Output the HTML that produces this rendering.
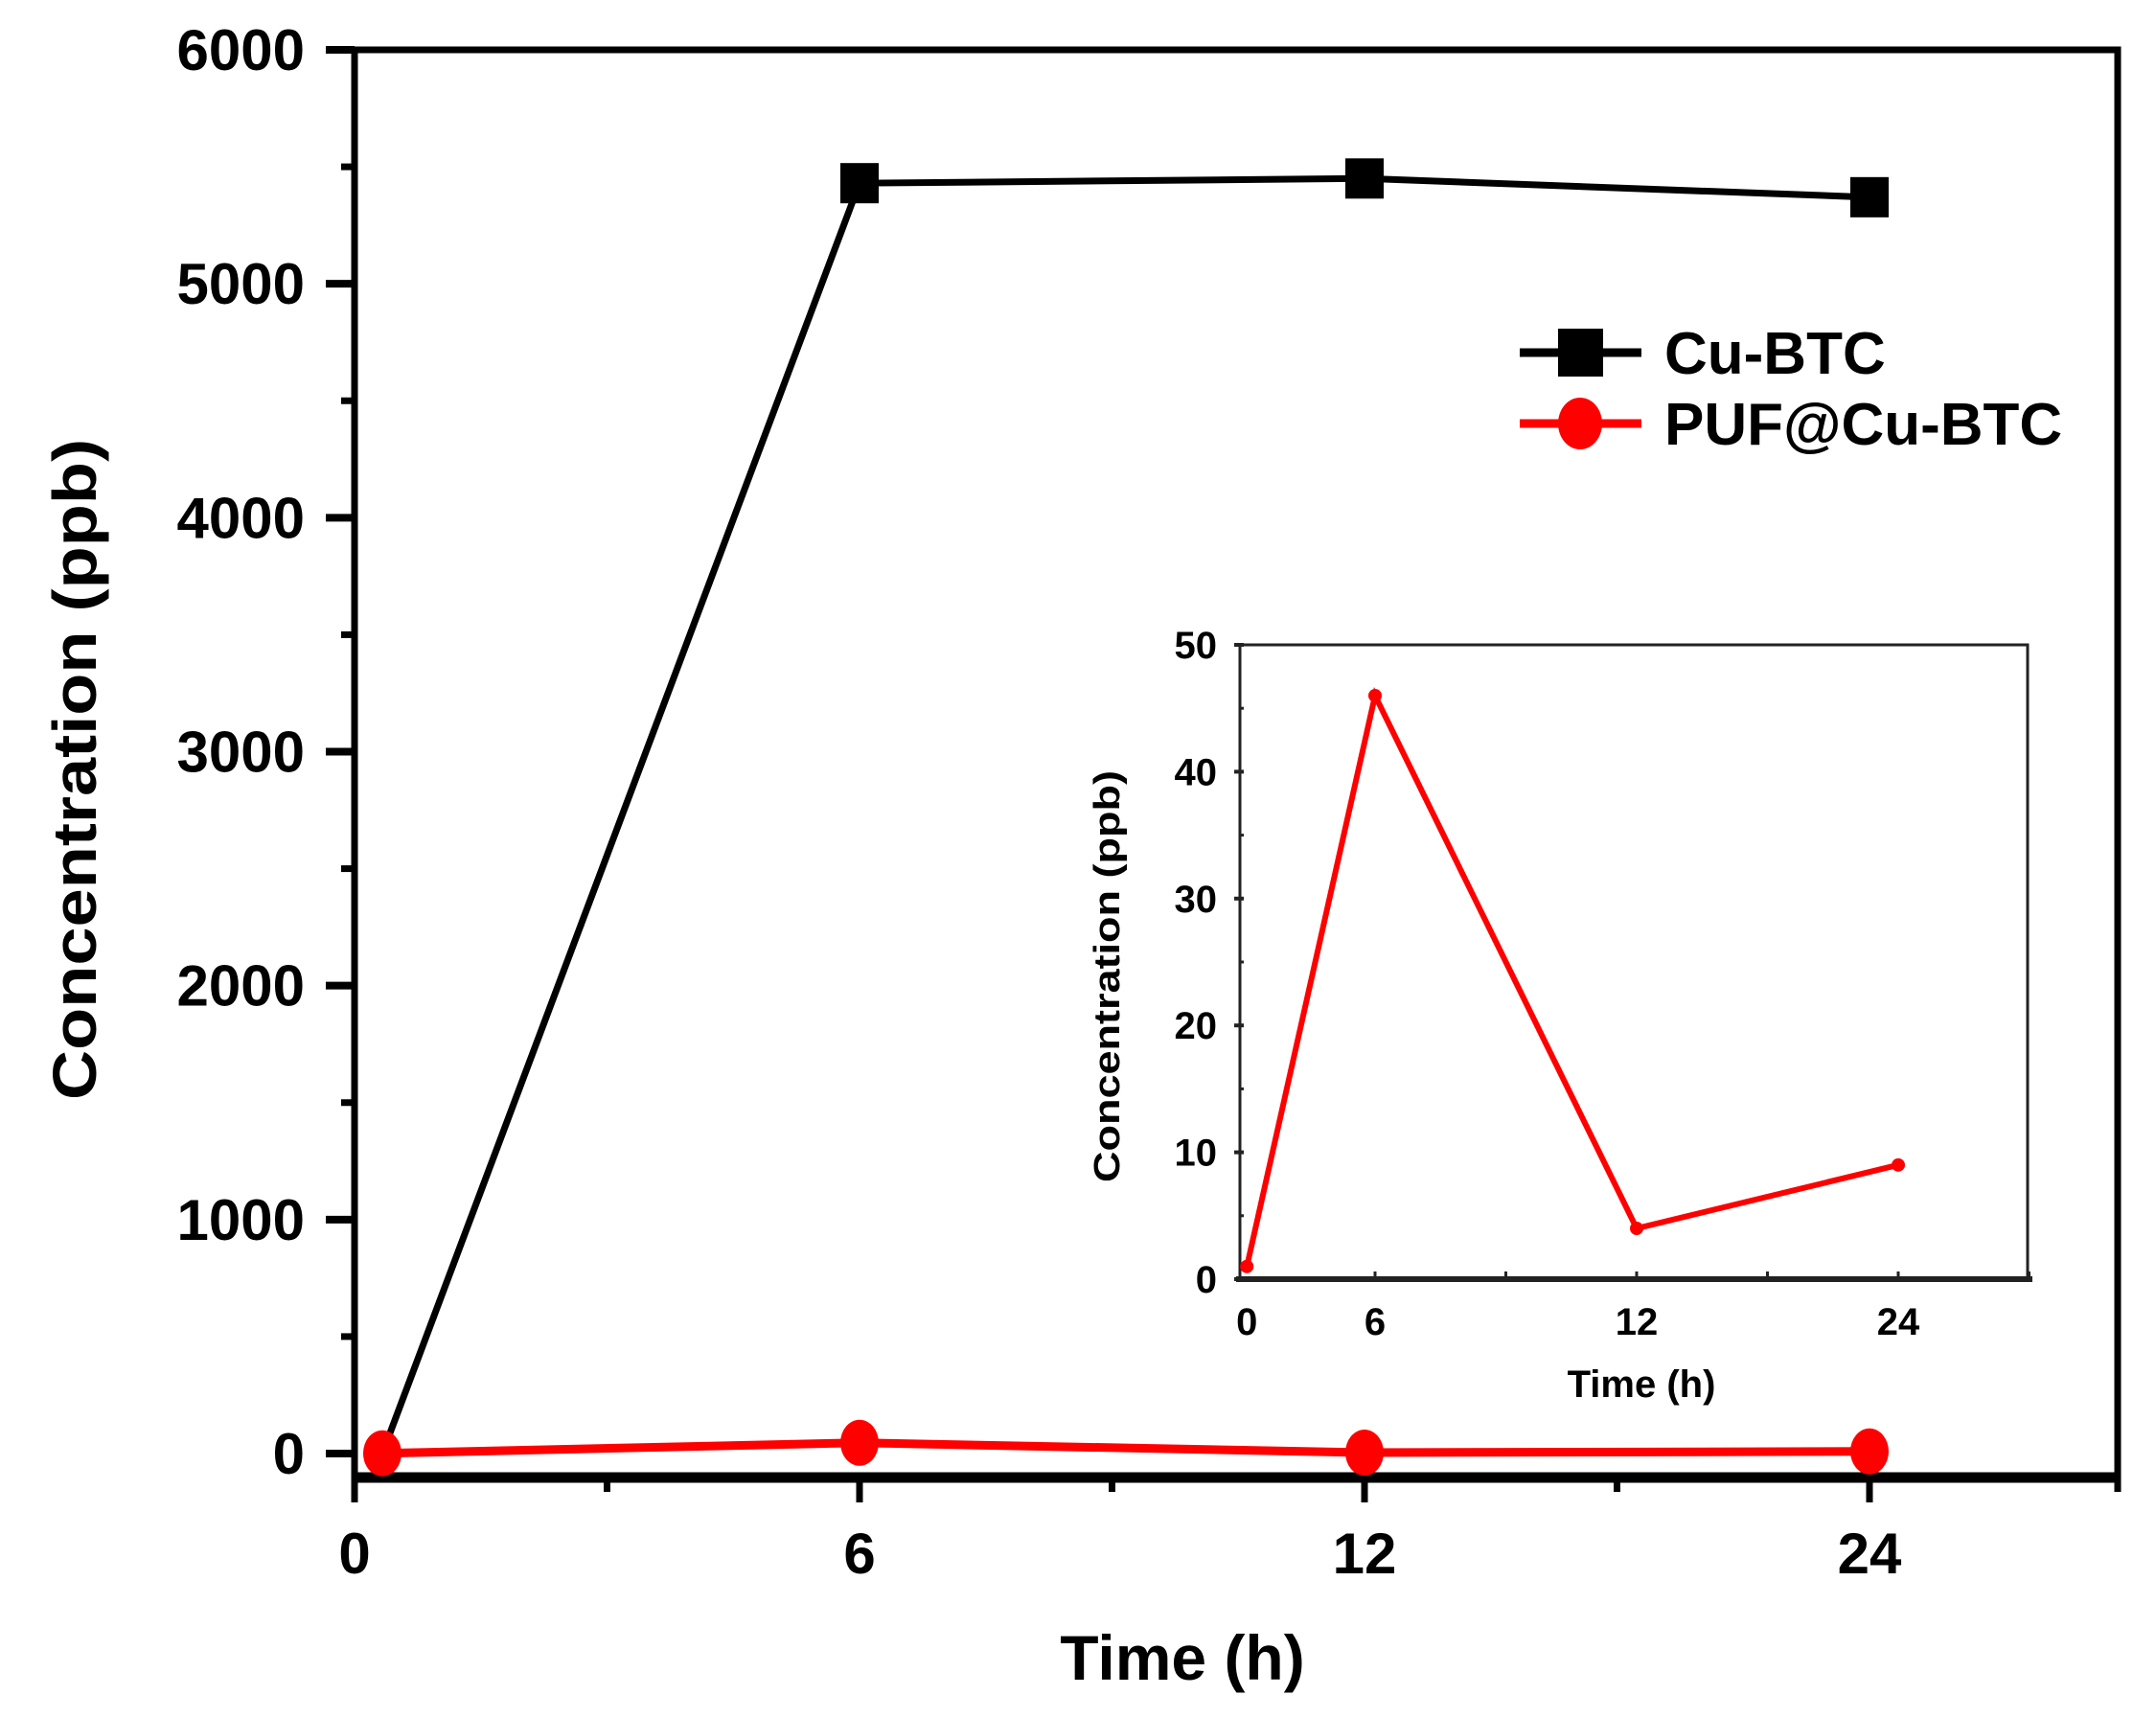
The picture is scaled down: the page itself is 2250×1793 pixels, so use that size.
<!DOCTYPE html>
<html><head><meta charset="utf-8"><style>
html,body{margin:0;padding:0;background:#fff;}
svg{display:block;font-family:"Liberation Sans",Arial,sans-serif;font-weight:bold;}
</style></head><body>
<svg id="chart" width="2250" height="1793" viewBox="0 0 2250 1793">
<g id="main"></g>
<g id="inset"></g>
<g id="legend">
  <g>
    <line x1="1586" y1="368" x2="1713" y2="368" stroke="#000" stroke-width="9"/>
    <rect x="1626" y="343" width="47" height="50" fill="#000"/>
    <text x="1737" y="390" font-size="62" fill="#000">Cu-BTC</text>
  </g>
  <g>
    <line x1="1586" y1="442" x2="1713" y2="442" stroke="#f00" stroke-width="9"/>
    <ellipse cx="1649" cy="442" rx="23" ry="27" fill="#f00"/>
    <text x="1737" y="464" font-size="62" fill="#000">PUF@Cu-BTC</text>
  </g>
</g>
</svg>
<script>
const categories = ["0", "6", "12", "24"];
const xPositions = [0.055, 1, 2, 3];
const cuBTC = [0, 5430, 5450, 5370];
const pufCuBTC = [1, 46, 4, 9];
const yTicks = [0, 1000, 2000, 3000, 4000, 5000, 6000];
const insetXPositions = [0.51, 1, 2, 3];
const insetYTicks = [0, 10, 20, 30, 40, 50];

const NS = "http://www.w3.org/2000/svg";
function mk(parent, tag, attrs, text) {
  const e = document.createElementNS(NS, tag);
  for (const k in attrs) e.setAttribute(k, attrs[k]);
  if (text !== undefined) e.textContent = text;
  parent.appendChild(e);
  return e;
}

const L = 370, R = 2210, T = 52, Y0 = 1517, B = 1542;
const xs = i => L + i * 527;
const ys = v => Y0 - (v / 6000) * (Y0 - T);
const main = document.getElementById('main');

const frame = mk(main, 'path', {d: `M${L},1568 L${L},${T} L${R},${T} L${R},1557`, fill: 'none', stroke: '#000', 'stroke-width': 7});


const xaxis = mk(main, 'line', {x1: L - 3, y1: B, x2: R + 3, y2: B, stroke: '#000', 'stroke-width': 11});



yTicks.forEach((v, i) => {
  const y = ys(v);
  const t = mk(main, 'line', {x1: 340, y1: y, x2: L, y2: y, stroke: '#000', 'stroke-width': 8});
  
  
  const lb = mk(main, 'text', {x: 318, y: y + 21, 'font-size': 60, 'text-anchor': 'end'}, String(v));
  
  
  if (i < yTicks.length - 1) {
    const m = ys(v + 500);
    const mt = mk(main, 'line', {x1: 356, y1: m, x2: L, y2: m, stroke: '#000', 'stroke-width': 7});
    
    
  }
});
for (let i = 0; i <= 3; i++) {
  const t = mk(main, 'line', {x1: xs(i), y1: B, x2: xs(i), y2: 1568, stroke: '#000', 'stroke-width': 7});
  
  
  if (i < 3) {
    const mt = mk(main, 'line', {x1: xs(i + 0.5), y1: B, x2: xs(i + 0.5), y2: 1557, stroke: '#000', 'stroke-width': 7});
    
    
  }
}
categories.forEach((c, i) => {
  const lb = mk(main, 'text', {x: xs(i), y: 1642, 'font-size': 60, 'text-anchor': 'middle'}, c);
  
  
});
const xt = mk(main, 'text', {x: 1234, y: 1753, 'font-size': 66, 'text-anchor': 'middle'}, 'Time (h)');


const yt = mk(main, 'text', {x: 0, y: 0, 'font-size': 64, 'text-anchor': 'middle', transform: 'translate(100,803) rotate(-90)', textLength: 690, lengthAdjust: 'spacingAndGlyphs'}, 'Concentration (ppb)');



const bl = mk(main, 'polyline', {points: cuBTC.map((v, i) => `${xs(xPositions[i])},${ys(v)}`).join(' '), fill: 'none', stroke: '#000', 'stroke-width': 7});


const rl = mk(main, 'polyline', {points: pufCuBTC.map((v, i) => `${xs(xPositions[i])},${ys(v)}`).join(' '), fill: 'none', stroke: '#f00', 'stroke-width': 9});


cuBTC.forEach((v, i) => {
  if (i === 0) return;
  const m = mk(main, 'rect', {x: xs(xPositions[i]) - 20, y: ys(v) - 21, width: 40, height: 42, fill: '#000'});
  
  
});
pufCuBTC.forEach((v, i) => {
  const m = mk(main, 'ellipse', {cx: xs(xPositions[i]), cy: ys(v), rx: 20, ry: 24, fill: '#f00'});
  
  
});

const iL = 1294, iR = 2116, iT = 673, iB = 1335;
const ixs = p => 1435 + (p - 1) * 273;
const iys = v => iB - (v / 50) * (iB - iT);
const inset = document.getElementById('inset');
const ifr = mk(inset, 'path', {d: `M${iL},${iB} L${iL},${iT} L${iR},${iT} L${iR},${iB}`, fill: 'none', stroke: '#222', 'stroke-width': 3});


const ixa = mk(inset, 'line', {x1: iL - 4, y1: iB, x2: iR + 5, y2: iB, stroke: '#222', 'stroke-width': 6});


insetYTicks.forEach((v, i) => {
  const y = iys(v);
  const t = mk(inset, 'line', {x1: iL - 6, y1: y, x2: iL + 4, y2: y, stroke: '#222', 'stroke-width': 4});
  
  
  const lb = mk(inset, 'text', {x: 1270, y: y + 14, 'font-size': 40, 'text-anchor': 'end'}, String(v));
  
  
  if (i < insetYTicks.length - 1) {
    const m = iys(v + 5);
    const mt = mk(inset, 'line', {x1: iL, y1: m, x2: iL + 4, y2: m, stroke: '#222', 'stroke-width': 3});
    
    
  }
});
[1, 1.5, 2, 2.5, 3, 3.5].forEach(p => {
  const t = mk(inset, 'line', {x1: ixs(p), y1: iB - 8, x2: ixs(p), y2: iB, stroke: '#222', 'stroke-width': 3});
  
  
});
categories.forEach((c, i) => {
  const lb = mk(inset, 'text', {x: ixs(insetXPositions[i]), y: 1393, 'font-size': 40, 'text-anchor': 'middle'}, c);
  
  
});
const ixt = mk(inset, 'text', {x: 1713, y: 1458, 'font-size': 40, 'text-anchor': 'middle'}, 'Time (h)');


const iyt = mk(inset, 'text', {x: 0, y: 0, 'font-size': 38, 'text-anchor': 'middle', transform: 'translate(1168,1019) rotate(-90)', textLength: 430, lengthAdjust: 'spacingAndGlyphs'}, 'Concentration (ppb)');


const il = mk(inset, 'polyline', {points: pufCuBTC.map((v, i) => `${ixs(insetXPositions[i])},${iys(v)}`).join(' '), fill: 'none', stroke: '#f00', 'stroke-width': 6});


pufCuBTC.forEach((v, i) => {
  const m = mk(inset, 'circle', {cx: ixs(insetXPositions[i]), cy: iys(v), r: 7, fill: '#f00'});
  
  
});
</script>
</body></html>
